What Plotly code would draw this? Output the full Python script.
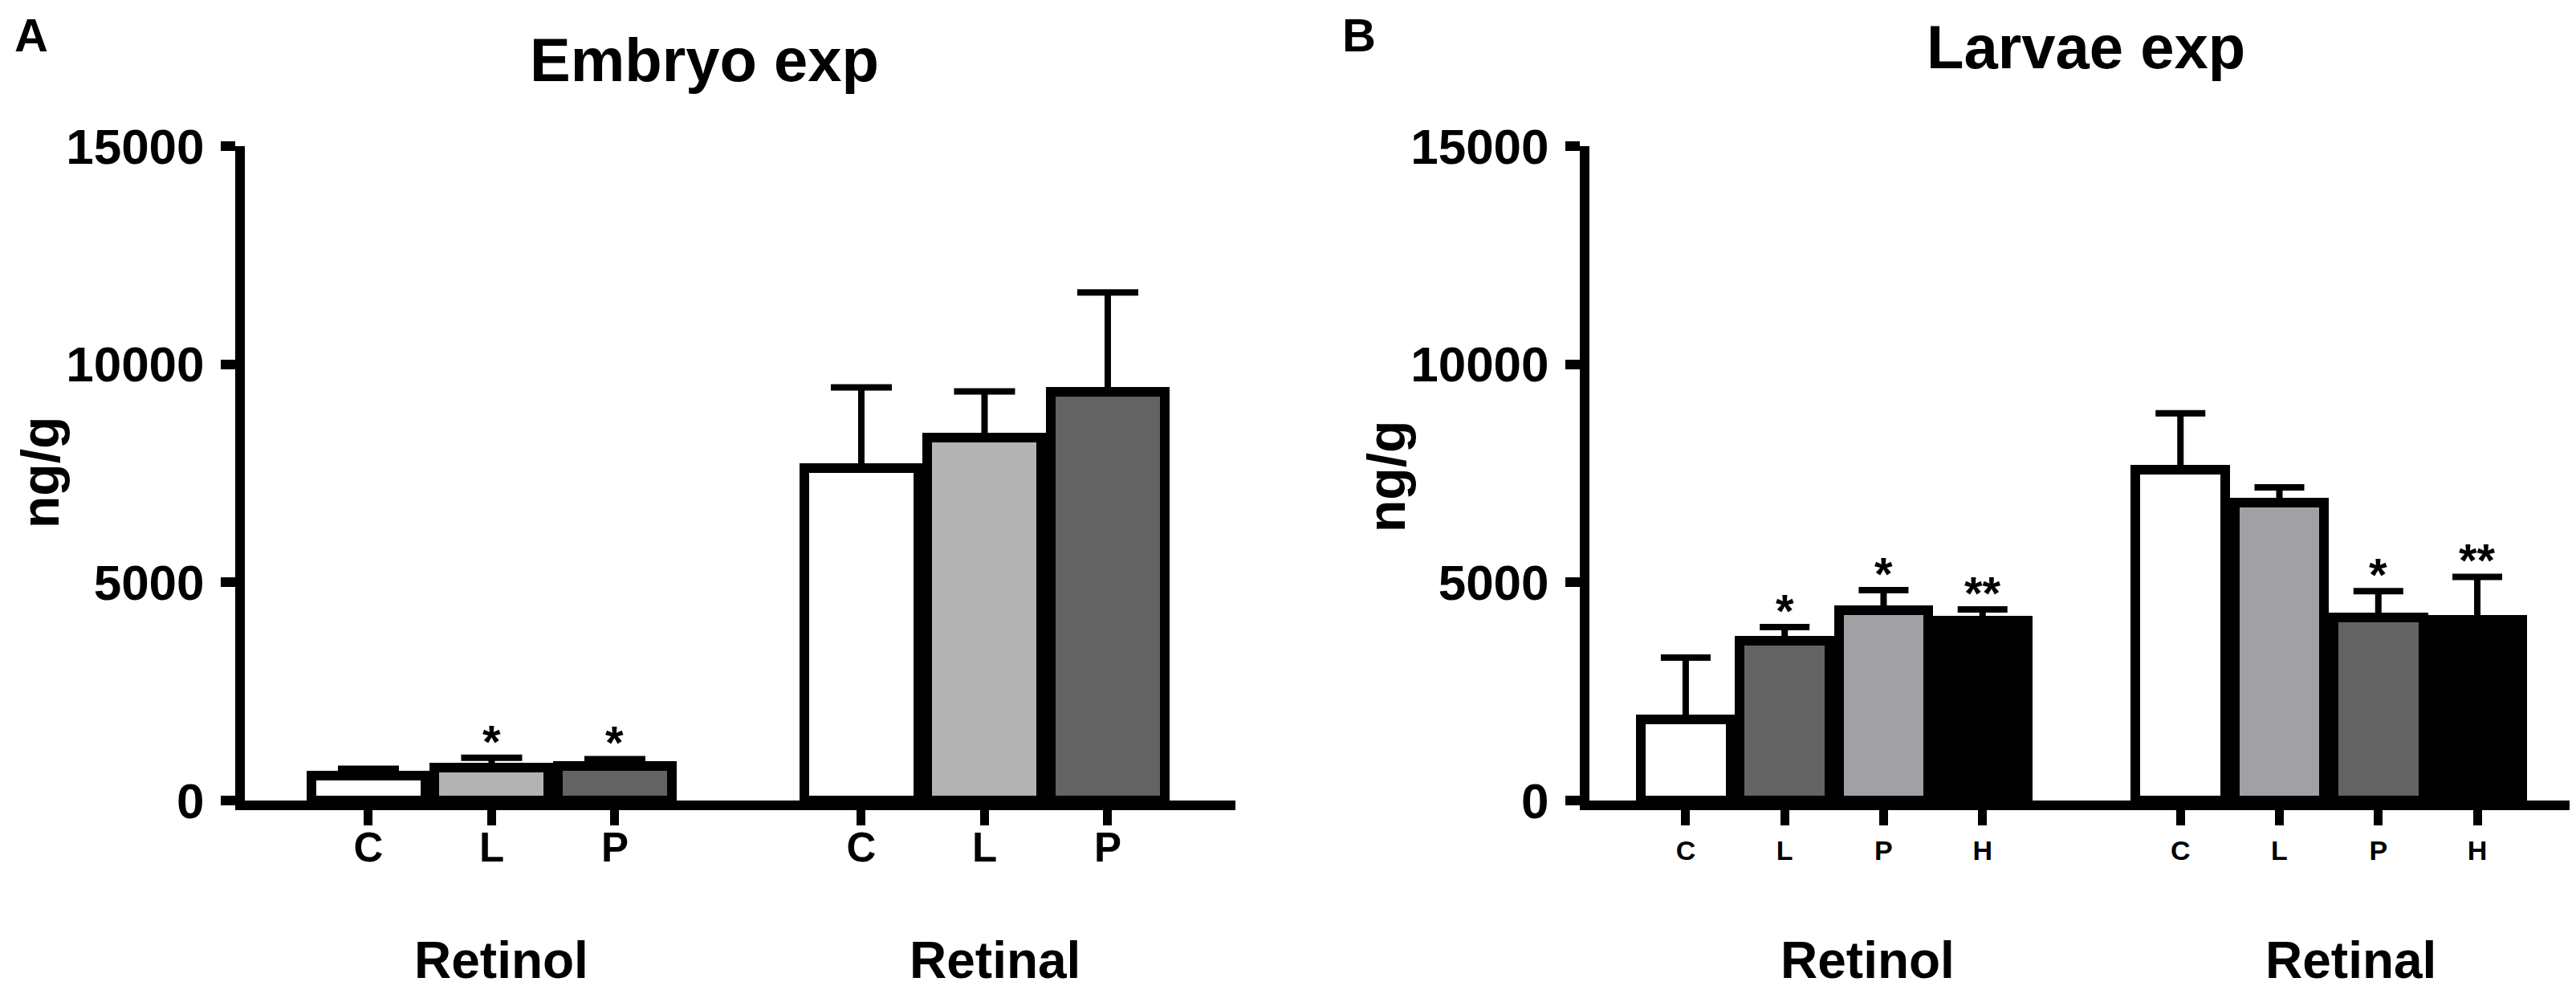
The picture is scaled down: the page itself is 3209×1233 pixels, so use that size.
import plotly.graph_objects as go

# values (ng/g); "upper" = top of the SEM bar
groups = ["Retinol", "Retinal"]

embryo_treat = ["C", "L", "P"]
embryo_retinol = [576, 755, 791]
embryo_retinol_upper = [727, 979, 950]
embryo_retinal = [7620, 8320, 9369]
embryo_retinal_upper = [9470, 9378, 11645]
embryo_stars = [["", "*", "*"], ["", "", ""]]
embryo_colors = [["#ffffff", "#b3b3b3", "#636363"], ["#ffffff", "#b3b3b3", "#636363"]]

larvae_treat = ["C", "L", "P", "H"]
larvae_retinol = [1859, 3663, 4362, 4123]
larvae_retinol_upper = [3276, 3976, 4822, 4381]
larvae_retinal = [7583, 6828, 4197, 4147]
larvae_retinal_upper = [8877, 7178, 4798, 5126]
larvae_stars = [["", "*", "*", "**"], ["", "", "*", "**"]]
larvae_colors = [["#ffffff", "#636363", "#a1a1a5", "#000000"], ["#ffffff", "#a1a1a5", "#636363", "#000000"]]

y_ticks = [0, 5000, 10000, 15000]

W, H = 3209, 1233
FONT = "Liberation Sans, Arial, sans-serif"


def px(x):
    return x / W


def py(y):
    return 1 - y / H


fig = go.Figure()
annotations = []


def panel(ax, treat, means, uppers, stars, colors, barw, capw):
    n = len(treat)
    xs, ys, errs, cols, tvals, ttext = [], [], [], [], [], []
    for g in range(len(groups)):
        for i in range(n):
            pos = g * (n + 1) + i
            xs.append(pos)
            ys.append(means[g][i])
            errs.append(uppers[g][i] - means[g][i])
            cols.append(colors[g][i])
            tvals.append(pos)
            ttext.append(treat[i])
            if stars[g][i]:
                annotations.append(dict(
                    x=pos, y=uppers[g][i], xref="x" + ax, yref="y" + ax,
                    text=stars[g][i], showarrow=False, yanchor="bottom", yshift=-14,
                    font=dict(family=FONT, size=58, color="black", weight="bold")))
    fig.add_trace(go.Bar(
        x=xs, y=ys, width=barw, xaxis="x" + ax, yaxis="y" + ax,
        marker=dict(color=cols, line=dict(color="black", width=12)),
        error_y=dict(type="data", symmetric=False, array=errs, arrayminus=[0] * len(errs),
                     color="black", thickness=8, width=capw),
        showlegend=False))
    return tvals, ttext


tvA, ttA = panel("", embryo_treat, [embryo_retinol, embryo_retinal],
                 [embryo_retinol_upper, embryo_retinal_upper], embryo_stars, embryo_colors, 0.925, 38)
tvB, ttB = panel("2", larvae_treat, [larvae_retinol, larvae_retinal],
                 [larvae_retinol_upper, larvae_retinal_upper], larvae_stars, larvae_colors, 0.906, 31)

ydom = [py(989), py(174)]
yax = dict(range=[0, 15000], tickvals=y_ticks, ticktext=[str(v) for v in y_ticks],
           showgrid=False, zeroline=False, automargin=False,
           showline=True, linecolor="black", linewidth=12, ticks="outside", ticklen=18, tickwidth=12,
           tickcolor="black", ticklabelstandoff=8,
           tickfont=dict(family=FONT, size=62, color="black", weight="bold"), domain=ydom)
xax = dict(showgrid=False, zeroline=False, showline=True, linecolor="black", linewidth=12,
           automargin=False, ticks="outside", ticklen=19, tickwidth=11, tickcolor="black")

fig.update_layout(
    template="none",
    width=W, height=H, margin=dict(l=0, r=0, t=0, b=0, pad=0),
    paper_bgcolor="white", plot_bgcolor="white", bargap=0,
    xaxis=dict(xax, domain=[px(297), px(1531)], range=[-1.003, 7.036], anchor="y",
               tickvals=tvA, ticktext=ttA, ticklabelstandoff=-16,
               tickfont=dict(family=FONT, size=51, color="black", weight="bold")),
    yaxis=dict(yax, anchor="x"),
    xaxis2=dict(xax, domain=[px(1972), px(3205)], range=[-0.973, 9.03], anchor="y2",
                tickvals=tvB, ticktext=ttB, ticklabelstandoff=2,
                tickfont=dict(family=FONT, size=34, color="black", weight="bold")),
    yaxis2=dict(yax, anchor="x2"),
)

# short stub of the x axis to the left of the y axis
for ax, x0, x1 in [("", 274, 297), ("2", 1954, 1972)]:
    fig.add_shape(type="line", xref="paper", yref="y" + ax, x0=px(x0), x1=px(x1), y0=0, y1=0,
                  line=dict(color="black", width=12))


def txt(x, y, s, size, angle=0):
    annotations.append(dict(x=px(x), y=py(y), xref="paper", yref="paper", text=s, showarrow=False,
                            xanchor="center", yanchor="middle", textangle=angle,
                            font=dict(family=FONT, size=size, color="black", weight="bold")))


txt(31, 36, "A", 58)
txt(1685, 36, "B", 58)
txt(869, 66, "Embryo exp", 76)
txt(2590, 50, "Larvae exp", 76)
txt(42, 581, "ng/g", 66, -90)
txt(1719, 585, "ng/g", 66, -90)
txt(616, 1188, "Retinol", 64)
txt(1231, 1188, "Retinal", 64)
txt(2318, 1188, "Retinol", 64)
txt(2920, 1188, "Retinal", 64)

fig.update_layout(annotations=annotations)
fig.write_html("out.html")
